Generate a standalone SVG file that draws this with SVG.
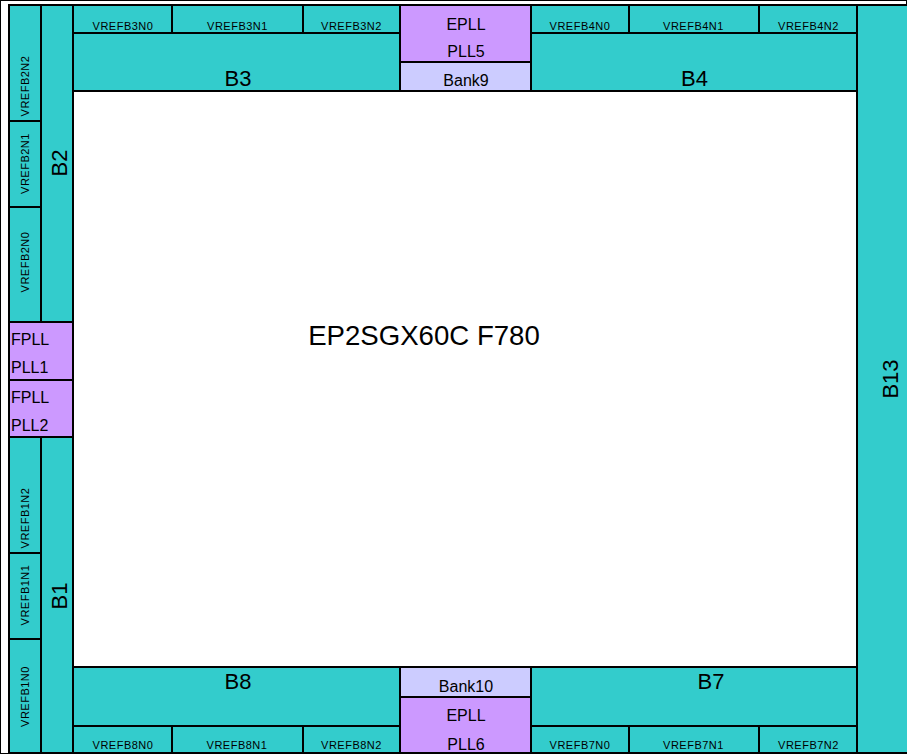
<svg xmlns="http://www.w3.org/2000/svg" width="907" height="754" viewBox="0 0 907 754">
<style>
rect{stroke:#000;stroke-width:2}
.t{fill:#33CCCC}
.p{fill:#CC99FF}
.l{fill:#CCCCFF}
text{font-family:"Liberation Sans",Arial,sans-serif;fill:#000}
.s{font-size:11px;letter-spacing:0.5px;text-anchor:middle}
.m{font-size:16px}
.mc{font-size:16px;text-anchor:middle}
.b{font-size:22px;text-anchor:middle}
</style>
<rect x="0" y="0" width="907" height="754" fill="#fff" stroke="none"/>
<g id="core"><rect x="73" y="91" width="784" height="576" fill="#fff" stroke="none"/><text x="424" y="345" style="font-size:27.6px;text-anchor:middle">EP2SGX60C F780</text></g>
<g id="B13"><rect class="t" x="857" y="5" width="60" height="748"/><text class="b" transform="translate(898,379) rotate(-90)">B13</text></g>
<g id="B2"><rect class="t" x="41" y="5" width="32" height="317"/><text class="b" transform="translate(66.5,163) rotate(-90)">B2</text></g>
<g id="VREFB2N2"><rect class="t" x="9" y="5" width="32" height="116"/><text class="s" transform="translate(29.3,86) rotate(-90)">VREFB2N2</text></g>
<g id="VREFB2N1"><rect class="t" x="9" y="121" width="32" height="86"/><text class="s" transform="translate(29.3,163.5) rotate(-90)">VREFB2N1</text></g>
<g id="VREFB2N0"><rect class="t" x="9" y="207" width="32" height="115"/><text class="s" transform="translate(29.3,262) rotate(-90)">VREFB2N0</text></g>
<g id="PLL1"><rect class="p" x="9" y="322" width="64" height="58"/><text class="m" x="11" y="345">FPLL</text><text class="m" x="11" y="372.5">PLL1</text></g>
<g id="PLL2"><rect class="p" x="9" y="380" width="64" height="57"/><text class="m" x="11" y="402.5">FPLL</text><text class="m" x="11" y="430.5">PLL2</text></g>
<g id="B1"><rect class="t" x="41" y="437" width="32" height="316"/><text class="b" transform="translate(66.5,596) rotate(-90)">B1</text></g>
<g id="VREFB1N2"><rect class="t" x="9" y="437" width="32" height="116"/><text class="s" transform="translate(29.3,518) rotate(-90)">VREFB1N2</text></g>
<g id="VREFB1N1"><rect class="t" x="9" y="553" width="32" height="86"/><text class="s" transform="translate(29.3,595) rotate(-90)">VREFB1N1</text></g>
<g id="VREFB1N0"><rect class="t" x="9" y="639" width="32" height="114"/><text class="s" transform="translate(29.3,696.5) rotate(-90)">VREFB1N0</text></g>
<g id="B3"><rect class="t" x="73" y="33" width="327" height="58"/><text class="b" x="238" y="86">B3</text></g>
<g id="VREFB3N0"><rect class="t" x="73" y="5" width="99" height="28"/><text class="s" x="123" y="29.5">VREFB3N0</text></g>
<g id="VREFB3N1"><rect class="t" x="172" y="5" width="131" height="28"/><text class="s" x="237.5" y="29.5">VREFB3N1</text></g>
<g id="VREFB3N2"><rect class="t" x="303" y="5" width="97" height="28"/><text class="s" x="351.5" y="29.5">VREFB3N2</text></g>
<g id="PLL5"><rect class="p" x="400" y="5" width="131" height="57"/><text class="mc" x="466" y="30">EPLL</text><text class="mc" x="466" y="57.3">PLL5</text></g>
<g id="Bank9"><rect class="l" x="400" y="62" width="131" height="29"/><text class="mc" x="466" y="86">Bank9</text></g>
<g id="B4"><rect class="t" x="531" y="33" width="326" height="58"/><text class="b" x="694.5" y="86">B4</text></g>
<g id="VREFB4N0"><rect class="t" x="531" y="5" width="98" height="28"/><text class="s" x="580" y="29.5">VREFB4N0</text></g>
<g id="VREFB4N1"><rect class="t" x="629" y="5" width="130" height="28"/><text class="s" x="693.5" y="29.5">VREFB4N1</text></g>
<g id="VREFB4N2"><rect class="t" x="759" y="5" width="98" height="28"/><text class="s" x="808.5" y="29.5">VREFB4N2</text></g>
<g id="B8"><rect class="t" x="73" y="667" width="327" height="59"/><text class="b" x="238" y="689">B8</text></g>
<g id="VREFB8N0"><rect class="t" x="73" y="726" width="99" height="27"/><text class="s" x="123" y="749">VREFB8N0</text></g>
<g id="VREFB8N1"><rect class="t" x="172" y="726" width="131" height="27"/><text class="s" x="237" y="749">VREFB8N1</text></g>
<g id="VREFB8N2"><rect class="t" x="303" y="726" width="97" height="27"/><text class="s" x="351.5" y="749">VREFB8N2</text></g>
<g id="Bank10"><rect class="l" x="400" y="667" width="131" height="30"/><text class="mc" x="466" y="691.5">Bank10</text></g>
<g id="PLL6"><rect class="p" x="400" y="697" width="131" height="56"/><text class="mc" x="466" y="721">EPLL</text><text class="mc" x="466" y="750">PLL6</text></g>
<g id="B7"><rect class="t" x="531" y="667" width="326" height="59"/><text class="b" x="711" y="689">B7</text></g>
<g id="VREFB7N0"><rect class="t" x="531" y="726" width="98" height="27"/><text class="s" x="580" y="749">VREFB7N0</text></g>
<g id="VREFB7N1"><rect class="t" x="629" y="726" width="130" height="27"/><text class="s" x="693.5" y="749">VREFB7N1</text></g>
<g id="VREFB7N2"><rect class="t" x="759" y="726" width="98" height="27"/><text class="s" x="808.5" y="749">VREFB7N2</text></g>
<g id="connectors"></g>
</svg>
